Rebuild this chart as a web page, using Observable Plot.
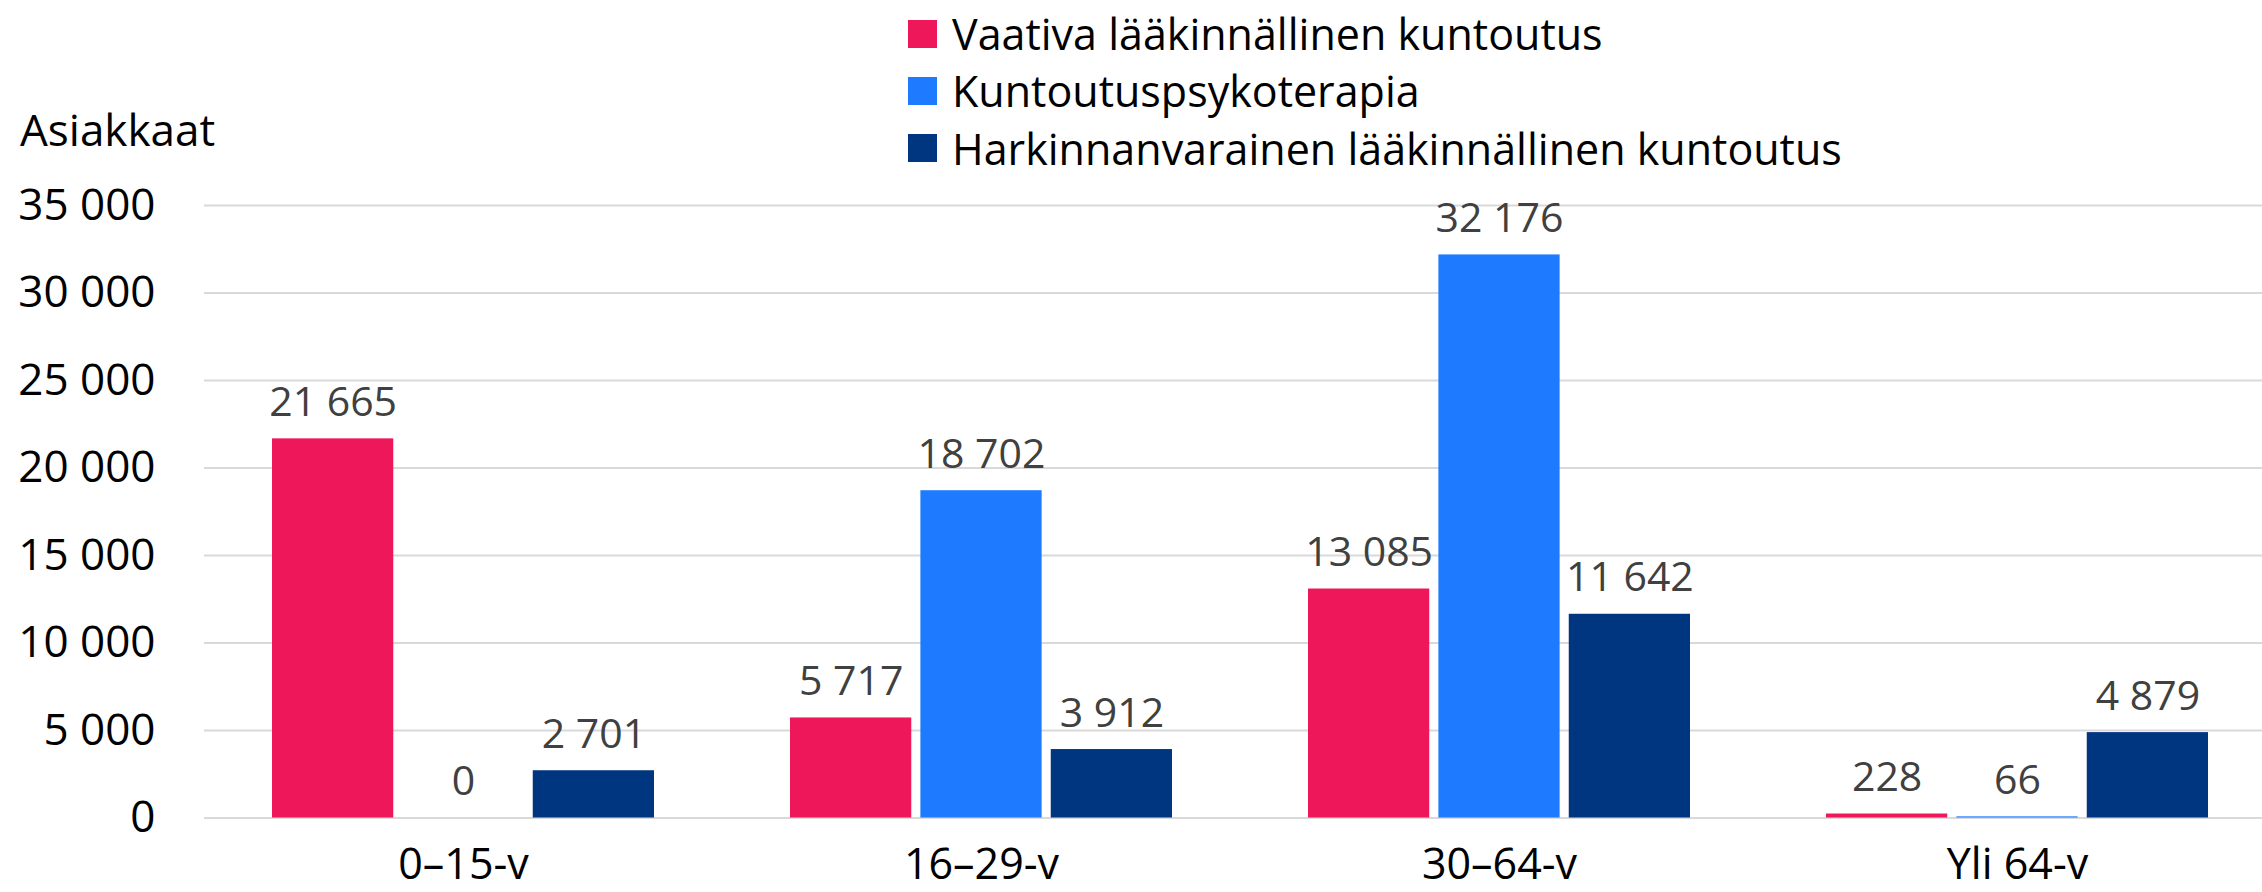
<!DOCTYPE html>
<html><head><meta charset="utf-8">
<script src="https://cdn.jsdelivr.net/npm/d3@7"></script>
<script src="https://cdn.jsdelivr.net/npm/@observablehq/plot@0.6"></script>
<style>
body{margin:0;background:#fff;}
#wrap{position:relative;width:2262px;height:892px;font-family:'Open Sans',sans-serif;overflow:hidden;}
#chart{position:absolute;left:0;top:0;}
#legend{position:absolute;left:908px;top:5px;}
.row{display:flex;align-items:center;height:57.33px;font-size:43px;line-height:57.33px;color:#000;white-space:nowrap;}
.sw{width:29px;height:28px;margin-right:15px;flex:none;}
#ylab{position:absolute;left:20px;top:107px;font-size:44px;line-height:44px;color:#000;}
</style></head><body>
<div id="wrap"><div id="chart"></div><div id="ylab">Asiakkaat</div><div id="legend"></div></div>
<script>
// Data
const groups = ["0–15-v", "16–29-v", "30–64-v", "Yli 64-v"];
const seriesNames = ["Vaativa lääkinnällinen kuntoutus", "Kuntoutuspsykoterapia", "Harkinnanvarainen lääkinnällinen kuntoutus"];
const vaativa = [21665, 5717, 13085, 228];
const psykoterapia = [0, 18702, 32176, 66];
const harkinnanvarainen = [2701, 3912, 11642, 4879];
const colors = ["#EE1759", "#1E7BFF", "#003680"];
const yTicks = [0, 5000, 10000, 15000, 20000, 25000, 30000, 35000];

const seriesValues = [vaativa, psykoterapia, harkinnanvarainen];
const rows = [];
groups.forEach((g, i) => seriesNames.forEach((s, j) => rows.push({group: g, series: s, value: seriesValues[j][i]})));

const fmt = d3.formatLocale({decimal: ",", thousands: "\u00a0", grouping: [3], currency: ["", "€"]}).format(",d");

const chart = Plot.plot({
  width: 2262, height: 892,
  marginTop: 205, marginBottom: 74.5, marginLeft: 203, marginRight: 0,
  style: {fontFamily: "'Open Sans', sans-serif", fontSize: "44px", background: "transparent", color: "#000", overflow: "visible"},
  fx: {domain: groups, range: [203, 2278], paddingInner: 0.2616, paddingOuter: 0.1308, label: null},
  x: {domain: seriesNames, paddingInner: 0.07, paddingOuter: 0, axis: null, round: false},
  y: {domain: [0, 35000], label: null},
  color: {domain: seriesNames, range: colors},
  marks: [
    Plot.ruleY(yTicks, {stroke: "#d9d9d9", strokeWidth: 2, insetLeft: -68, insetRight: -68}),
    Plot.barY(rows, {fx: "group", x: "series", y: "value", fill: "series"}),
    Plot.text(rows, {fx: "group", x: "series", y: "value", text: d => fmt(d.value), lineAnchor: "bottom", dy: -23, fontSize: 41, fill: "#404040"}),
    Plot.axisY({ticks: yTicks, tickFormat: fmt, tickSize: 0, tickPadding: 117, fontSize: 44, label: null}),
    Plot.axisFx({anchor: "bottom", tickSize: 0, tickPadding: 30, fontSize: 43, label: null})
  ]
});
document.getElementById("chart").appendChild(chart);

const legend = document.getElementById("legend");
seriesNames.forEach((s, i) => {
  const row = document.createElement("div");
  row.className = "row";
  const sw = document.createElement("span");
  sw.className = "sw";
  sw.style.background = colors[i];
  const t = document.createElement("span");
  t.textContent = s;
  row.appendChild(sw); row.appendChild(t);
  legend.appendChild(row);
});
</script>
</body></html>
